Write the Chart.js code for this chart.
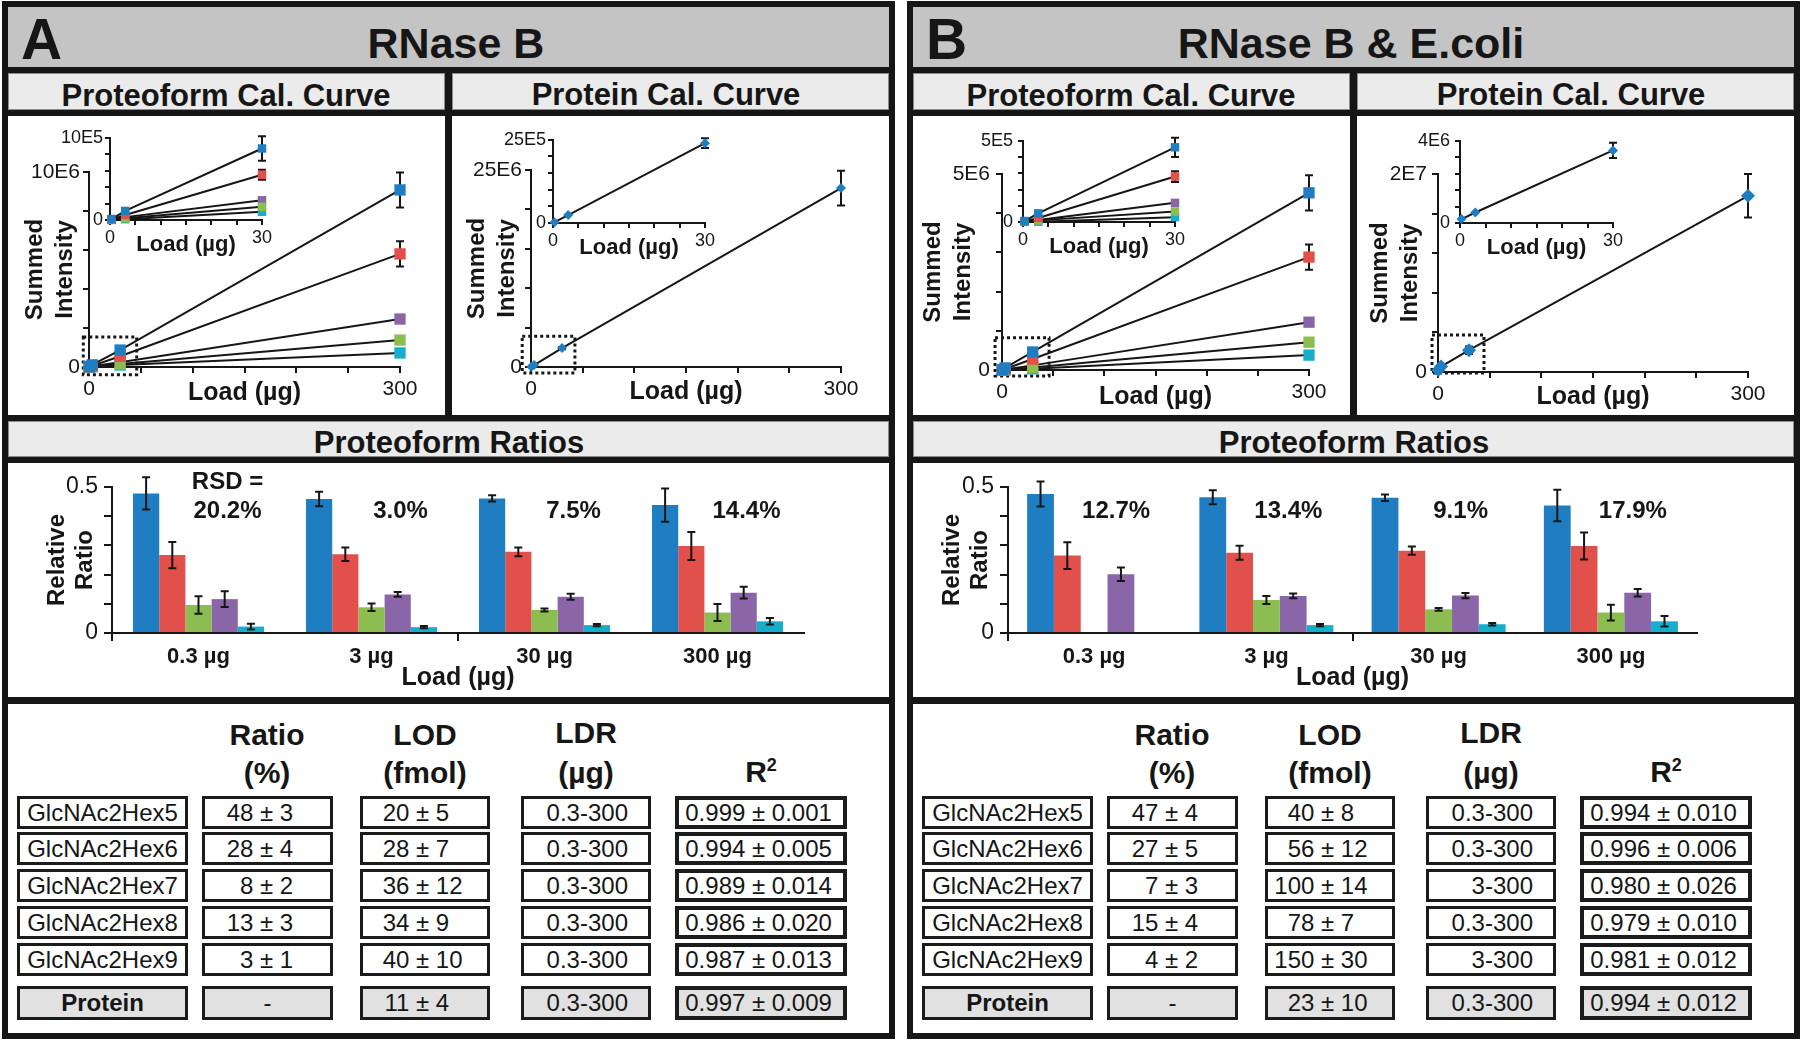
<!DOCTYPE html>
<html>
<head>
<meta charset="utf-8">
<title>RNase B calibration</title>
<script src="https://cdn.jsdelivr.net/npm/chart.js@4.4.1/dist/chart.umd.min.js"></script>
<style>
  html, body { margin: 0; padding: 0; background: #fff; }
  #page { position: relative; width: 1800px; height: 1040px; overflow: hidden; background: #fff;
          font-family: 'Liberation Sans', Arial, Helvetica, sans-serif; color: #161616; }
  #page div, #page canvas { position: absolute; }
  .row { box-sizing: border-box; border: 3px solid #1b1b1b; background: #fff; font-size: 24px; }
  .row.r2 { border-width: 4px; }
  .row.gray { background: #e1e1e1; }
  .row span { position: absolute; top: 0; white-space: nowrap; }
</style>
</head>
<body>
<div id="page"></div>
<script>
// ---------------- data ----------------
const loads = [0.3, 3, 30, 300];
const loadLabels = ['0.3 µg', '3 µg', '30 µg', '300 µg'];
const tableNames = ['GlcNAc2Hex5', 'GlcNAc2Hex6', 'GlcNAc2Hex7', 'GlcNAc2Hex8', 'GlcNAc2Hex9', 'Protein'];

// summed intensity, panel A (RNase B)
const hex5A = [0.012e6, 0.11e6, 0.87e6, 9.08e6];
const hex6A = [0.007e6, 0.06e6, 0.55e6, 5.8e6];
const hex7A = [0.002e6, 0.02e6, 0.16e6, 1.38e6];
const hex8A = [0.003e6, 0.035e6, 0.24e6, 2.46e6];
const hex9A = [0.001e6, 0.01e6, 0.10e6, 0.72e6];
const hex5AErr = [0, 0, 0.15e6, 0.9e6];
const hex6AErr = [0, 0, 0.06e6, 0.65e6];
const hex7AErr = [0, 0, 0.015e6, 0.08e6];
const hex8AErr = [0, 0, 0.02e6, 0.1e6];
const hex9AErr = [0, 0, 0.01e6, 0.05e6];
const proteinA = [0.025e6, 0.24e6, 2.4e6, 22.7e6];
const proteinAErr = [0, 0, 0.15e6, 2.2e6];

// summed intensity, panel B (RNase B & E.coli)
const hex5B = [0.006e6, 0.053e6, 0.46e6, 4.52e6];
const hex6B = [0.004e6, 0.025e6, 0.28e6, 2.88e6];
const hex7B = [null, 0.01e6, 0.065e6, 0.71e6];
const hex8B = [0.003e6, 0.012e6, 0.118e6, 1.22e6];
const hex9B = [null, 0.002e6, 0.03e6, 0.38e6];
const hex5BErr = [0, 0, 0.059e6, 0.45e6];
const hex6BErr = [0, 0, 0.033e6, 0.32e6];
const hex7BErr = [0, 0, 0.008e6, 0.05e6];
const hex8BErr = [0, 0, 0.01e6, 0.06e6];
const hex9BErr = [0, 0, 0.005e6, 0.03e6];
const proteinB = [0.19e6, 0.55e6, 2.2e6, 17.8e6];
const proteinBErr = [0, 0, 0.37e6, 2.2e6];
const proteinBInset = [0.19e6, 0.51e6, 3.53e6];

// y axis extents and their top tick labels: proteoform, proteoform inset, protein, protein inset
const yMaxA = [1e7, 1e6, 2.5e7, 2.5e6];
const yTopA = ['10E6', '10E5', '25E6', '25E5'];
const yMaxB = [5e6, 5e5, 2e7, 4e6];
const yTopB = ['5E6', '5E5', '2E7', '4E6'];

// relative ratio bars, one array per proteoform over the four loads
const ratio5A = [0.478, 0.459, 0.461, 0.438];
const ratio6A = [0.267, 0.270, 0.278, 0.298];
const ratio7A = [0.096, 0.088, 0.079, 0.070];
const ratio8A = [0.116, 0.132, 0.124, 0.138];
const ratio9A = [0.022, 0.020, 0.027, 0.040];
const ratio5AErr = [0.055, 0.025, 0.011, 0.057];
const ratio6AErr = [0.045, 0.023, 0.015, 0.048];
const ratio7AErr = [0.030, 0.013, 0.005, 0.029];
const ratio8AErr = [0.027, 0.008, 0.010, 0.020];
const ratio9AErr = [0.010, 0.004, 0.004, 0.011];
const ratio5B = [0.476, 0.465, 0.463, 0.437];
const ratio6B = [0.265, 0.275, 0.282, 0.298];
const ratio7B = [null, 0.113, 0.081, 0.070];
const ratio8B = [0.201, 0.127, 0.128, 0.138];
const ratio9B = [null, 0.027, 0.030, 0.040];
const ratio5BErr = [0.043, 0.024, 0.011, 0.054];
const ratio6BErr = [0.046, 0.024, 0.014, 0.046];
const ratio7BErr = [0, 0.014, 0.005, 0.027];
const ratio8BErr = [0.023, 0.008, 0.009, 0.013];
const ratio9BErr = [0, 0.004, 0.004, 0.018];
const barTicks = ['0', '0.5'];
const rsdA = ['20.2%', '3.0%', '7.5%', '14.4%'];
const rsdB = ['12.7%', '13.4%', '9.1%', '17.9%'];

// tables
const ratioA = ['48 ± 3', '28 ± 4', '8 ± 2', '13 ± 3', '3 ± 1', '-'];
const lodA = ['20 ± 5', '28 ± 7', '36 ± 12', '34 ± 9', '40 ± 10', '11 ± 4'];
const ldrA = ['0.3-300', '0.3-300', '0.3-300', '0.3-300', '0.3-300', '0.3-300'];
const r2A = ['0.999 ± 0.001', '0.994 ± 0.005', '0.989 ± 0.014', '0.986 ± 0.020', '0.987 ± 0.013', '0.997 ± 0.009'];
const ratioB = ['47 ± 4', '27 ± 5', '7 ± 3', '15 ± 4', '4 ± 2', '-'];
const lodB = ['40 ± 8', '56 ± 12', '100 ± 14', '78 ± 7', '150 ± 30', '23 ± 10'];
const ldrB = ['0.3-300', '0.3-300', '3-300', '0.3-300', '3-300', '0.3-300'];
const r2B = ['0.994 ± 0.010', '0.996 ± 0.006', '0.980 ± 0.026', '0.979 ± 0.010', '0.981 ± 0.012', '0.994 ± 0.012'];

// ---------------- layout helpers ----------------
const INK = '#161616';
const FONT = "'Liberation Sans', Arial, Helvetica, sans-serif";
const COLORS = ['#1f7ec2', '#e2504c', '#8cbd50', '#8a66a9', '#17aecb'];
const SUB = 'background:#ebebeb;box-shadow:inset 0 0 0 1px #8c8c8c';
const page = document.getElementById('page');

function box(l, t, w, h, css) {
  const d = document.createElement('div');
  d.style.cssText = `left:${l}px;top:${t}px;width:${w}px;height:${h}px;` + (css || '');
  page.appendChild(d);
  return d;
}

// place text so its baseline sits at `base`
function text(html, x, base, size, align, bold) {
  align = align || 'center';
  const w = 800;
  const left = align === 'center' ? x - w / 2 : x;
  const d = box(left, Math.round(base - 0.8465 * size), w, size,
    `font-size:${size}px;line-height:${size}px;white-space:nowrap;text-align:${align};` +
    `font-weight:${bold === false ? 'normal' : 'bold'}`);
  d.innerHTML = html;
  return d;
}

function span(parent, html, css) {
  const s = document.createElement('span');
  s.style.cssText = css;
  s.innerHTML = html;
  parent.appendChild(s);
}

function valueCell(l, t, w, h, val, mode, anchor, cls) {
  const d = box(l, t, w, h, '');
  d.className = 'row ' + cls;
  const bw = cls.indexOf('r2') >= 0 ? 4 : 3;
  const lh = h - 2 * bw;
  const inner = w - 2 * bw;
  if (mode === 'pm' && val.indexOf('±') >= 0) {
    const parts = val.split(' ± ');
    span(d, parts[0] + '&nbsp;', `right:${inner - (anchor - bw)}px;line-height:${lh}px`);
    span(d, '± ' + parts[1], `left:${anchor - bw}px;line-height:${lh}px`);
  } else if (mode === 'right') {
    span(d, val, `right:${w - bw - anchor}px;line-height:${lh}px`);
  } else {
    span(d, val, `left:0;right:0;text-align:center;line-height:${lh}px;` + (cls.indexOf('gray') >= 0 && mode === 'name' ? 'font-weight:bold' : ''));
  }
}

function buildPanel(dx, letter, title, titleCx, cols) {
  box(dx + 2, 1, 893, 1038, 'background:' + INK);
  box(dx + 8, 7, 881, 60, 'background:#c4c4c4');
  box(dx + 8, 73, 437, 37, SUB);
  box(dx + 452, 73, 437, 37, SUB);
  box(dx + 8, 116, 437, 299, 'background:#fff');
  box(dx + 452, 116, 437, 299, 'background:#fff');
  box(dx + 8, 421, 881, 36, SUB);
  box(dx + 8, 463, 881, 234, 'background:#fff');
  box(dx + 8, 704, 881, 329, 'background:#fff');

  text(letter, dx + 21, 59, 57, 'left');
  text(title, titleCx, 58, 43);
  text('Proteoform Cal. Curve', dx + 226, 106, 31);
  text('Protein Cal. Curve', dx + 666, 105, 31);
  text('Proteoform Ratios', dx + 449, 453, 31);

  text('Ratio', dx + 267, 745, 30);
  text('(%)', dx + 267, 783, 30);
  text('LOD', dx + 425, 745, 30);
  text('(fmol)', dx + 425, 783, 30);
  text('LDR', dx + 586, 743, 30);
  text('(µg)', dx + 586, 783, 30);
  text('R<span style="font-size:18px;position:relative;top:-11px">2</span>', dx + 761, 782, 30);

  const colX = [17, 202, 360, 521, 675];
  const colW = [171, 131, 130, 130, 172];
  const modes = ['name', 'pm', 'pm', 'right', 'pm'];
  const anchors = [0, 58, 56, 107, 77];
  const rowTop = [796, 832, 869, 906, 943, 986];
  tableNames.forEach((name, r) => {
    const h = r === 5 ? 34 : 33;
    const vals = [name].concat(cols.map(c => c[r]));
    vals.forEach((v, c) => {
      const cls = (c === 4 ? 'r2 ' : '') + (r === 5 ? 'gray' : '');
      const mode = (r === 5 && c === 1) ? 'center' : modes[c];
      valueCell(dx + colX[c], rowTop[r], colW[c], h, v, mode, anchors[c], cls);
    });
  });
}

buildPanel(0, 'A', 'RNase B', 456, [ratioA, lodA, ldrA, r2A]);
buildPanel(905, 'B', 'RNase B &amp; E.coli', 1351, [ratioB, lodB, ldrB, r2B]);

// ---------------- chart plugins ----------------
function drawErrors(chart) {
  const ctx = chart.ctx;
  const y = chart.scales.y;
  ctx.save();
  ctx.strokeStyle = INK;
  ctx.lineWidth = 2;
  chart.data.datasets.forEach((ds, i) => {
    if (!ds.errors) return;
    chart.getDatasetMeta(i).data.forEach((el, j) => {
      const raw = ds.data[j];
      const v = raw !== null && typeof raw === 'object' ? raw.y : raw;
      const e = ds.errors[j];
      if (v === null || v === undefined || !e) return;
      const x = el.x;
      const yt = y.getPixelForValue(v + e);
      const yb = y.getPixelForValue(v - e);
      ctx.beginPath();
      ctx.moveTo(x, yt); ctx.lineTo(x, yb);
      ctx.moveTo(x - 4, yt); ctx.lineTo(x + 4, yt);
      ctx.moveTo(x - 4, yb); ctx.lineTo(x + 4, yb);
      ctx.stroke();
    });
  });
  ctx.restore();
}

// bars: whiskers on top of the bars; curves: whiskers behind the markers
const barErrors = {id: 'barErrors', afterDatasetsDraw: drawErrors};
const pointErrors = {id: 'pointErrors', beforeDatasetsDraw: drawErrors};

const zoomBoxPlugin = {
  id: 'zoomBox',
  beforeDatasetsDraw(chart, args, o) {
    if (!o || o.x1 === undefined) return;
    const ctx = chart.ctx;
    const x = chart.scales.x, y = chart.scales.y;
    const l = x.getPixelForValue(o.x0), r = x.getPixelForValue(o.x1);
    const t = y.getPixelForValue(o.y1), b = y.getPixelForValue(o.y0);
    ctx.save();
    ctx.setLineDash([3, 3]);
    ctx.lineWidth = 3;
    ctx.strokeStyle = INK;
    ctx.strokeRect(l, t, r - l, b - t);
    ctx.restore();
  }
};

const rsdPlugin = {
  id: 'rsd',
  afterDatasetsDraw(chart, args, o) {
    if (!o || !o.labels) return;
    const ctx = chart.ctx;
    const x = chart.scales.x, y = chart.scales.y;
    ctx.save();
    ctx.font = `bold 24px ${FONT}`;
    ctx.fillStyle = INK;
    ctx.textAlign = 'center';
    ctx.textBaseline = 'middle';
    o.labels.forEach((t, i) => {
      const px = x.getPixelForValue(i) + o.dx;
      ctx.fillText(t, px, y.getPixelForValue(o.at));
      if (i === 0 && o.head) ctx.fillText(o.head, px, y.getPixelForValue(o.headAt));
    });
    ctx.restore();
  }
};

// ---------------- chart builders ----------------
function placeCanvas(plot, ml, mt, mr, mb) {
  const c = document.createElement('canvas');
  const w = plot.r - plot.l + ml + mr, h = plot.b - plot.t + mt + mb;
  c.width = w; c.height = h;
  c.style.cssText = `left:${plot.l - ml}px;top:${plot.t - mt}px;width:${w}px;height:${h}px`;
  page.appendChild(c);
  return c;
}

function lineSets(series, errs, n, radius, style) {
  return series.map((vals, k) => ({
    data: loads.slice(0, n).map((x, i) => ({x: x, y: vals[i]})),
    errors: errs[k].slice(0, n),
    borderColor: INK,
    borderWidth: 2,
    pointStyle: style,
    pointRadius: radius,
    pointBackgroundColor: COLORS[k],
    pointBorderWidth: 0,
    spanGaps: true,
    clip: false
  }));
}

function lineChart(c) {
  const tlh = 30;
  const ml = c.yTitleX ? c.plot.l - (c.yTitleX - tlh / 2 - 2) : c.ml;
  const xtlh = c.xtfs * 1.2;
  const xpad = c.plot.b + c.mb - xtlh / 2 - c.xTitleY;
  const canvas = placeCanvas(c.plot, ml, c.mt, c.mr, c.mb);
  return new Chart(canvas, {
    type: 'line',
    data: {datasets: c.datasets},
    options: {
      responsive: false,
      animation: false,
      layout: {padding: {left: 0, top: c.mt, right: c.mr, bottom: 0}},
      scales: {
        x: {
          type: 'linear', min: 0, max: c.xMax,
          afterFit: s => { s.height = c.mb; },
          border: {display: true, color: INK, width: 2},
          grid: {drawOnChartArea: false, drawTicks: true, tickLength: c.tick, color: INK, lineWidth: 2},
          ticks: {
            stepSize: c.xMax / 6, autoSkip: false, maxRotation: 0, minRotation: 0,
            padding: c.xpad, color: INK, font: {size: c.fs},
            callback: v => (v === 0 || v === c.xMax) ? String(v) : ''
          },
          title: {display: true, text: 'Load (µg)', color: INK,
                  font: {size: c.xtfs, weight: 'bold', lineHeight: 1.2}, padding: {top: 0, bottom: xpad}}
        },
        y: {
          min: 0, max: c.yMax,
          afterFit: s => { s.width = ml; },
          border: {display: true, color: INK, width: 2},
          grid: {drawOnChartArea: false, drawTicks: true, tickLength: c.tick, color: INK, lineWidth: 2},
          ticks: {
            stepSize: c.yMax / 5, autoSkip: false, padding: c.ypad, color: INK, font: {size: c.fs},
            callback: (v, i, t) => i === 0 ? '0' : (i === t.length - 1 ? c.yTop : '')
          },
          title: c.yTitleX ? {display: true, text: ['Summed', 'Intensity'], color: INK,
                  font: {size: 24, weight: 'bold', lineHeight: tlh / 24}, padding: {top: 2, bottom: 0}}
                : {display: false}
        }
      },
      plugins: {legend: {display: false}, tooltip: {enabled: false}, zoomBox: c.box || false}
    },
    plugins: [zoomBoxPlugin, pointErrors]
  });
}

function mainChart(plot, yTitleX, xTitleY, mt, mr, mb, yMax, yTop, datasets, zoom, ypad) {
  return lineChart({plot, yTitleX, xTitleY, mt, mr, mb, yMax, yTop, datasets, box: zoom,
    xMax: 300, tick: 6, fs: 21, xpad: 4, ypad: ypad, xtfs: 25});
}

function insetChart(plot, yMax, yTop, datasets, ypad) {
  return lineChart({plot, ml: 62, mt: 12, mr: 25, mb: 38, xTitleY: plot.b + 25, yMax, yTop, datasets,
    xMax: 30, tick: 5, fs: 18, xpad: 2, ypad: ypad, xtfs: 22});
}

function barChart(plot, yTitleX, series, errs, rsd, head, dx, catPct) {
  const tlh = 28;
  const ml = plot.l - (yTitleX - tlh / 2 - 2);
  const mt = 22, mr = 60, mb = 60;
  const canvas = placeCanvas(plot, ml, mt, mr, mb);
  return new Chart(canvas, {
    type: 'bar',
    data: {
      labels: loadLabels,
      datasets: series.map((vals, k) => ({
        data: vals, errors: errs[k], backgroundColor: COLORS[k], borderWidth: 0,
        categoryPercentage: catPct, barPercentage: 1
      }))
    },
    options: {
      responsive: false,
      animation: false,
      layout: {padding: {left: 0, top: mt, right: mr, bottom: 0}},
      scales: {
        x: {
          afterFit: s => { s.height = mb; },
          border: {display: true, color: INK, width: 2},
          grid: {offset: true, drawOnChartArea: false, drawTicks: true, tickLength: 8, lineWidth: 2,
                 color: ctx => ctx.index % 2 === 0 ? INK : 'rgba(0,0,0,0)'},
          ticks: {padding: 3, color: INK, font: {size: 22, weight: 'bold'}, maxRotation: 0, autoSkip: false},
          title: {display: true, text: 'Load (µg)', color: INK,
                  font: {size: 25, weight: 'bold', lineHeight: 1.2}, padding: {top: 0, bottom: 0}}
        },
        y: {
          min: 0, max: 0.5,
          afterFit: s => { s.width = ml; },
          border: {display: true, color: INK, width: 2},
          grid: {drawOnChartArea: false, drawTicks: true, tickLength: 8, color: INK, lineWidth: 2},
          ticks: {stepSize: 0.1, autoSkip: false, padding: 6, color: INK, font: {size: 23},
                  callback: (v, i, t) => i === 0 ? barTicks[0] : (i === t.length - 1 ? barTicks[1] : '')},
          title: {display: true, text: ['Relative', 'Ratio'], color: INK,
                  font: {size: 24, weight: 'bold', lineHeight: tlh / 24}, padding: {top: 2, bottom: 0}}
        }
      },
      plugins: {legend: {display: false}, tooltip: {enabled: false},
                rsd: {labels: rsd, head: head, dx: dx, at: 0.418, headAt: 0.515}}
    },
    plugins: [barErrors, rsdPlugin]
  });
}

// ---------------- panel A ----------------
const protoA = [hex5A, hex6A, hex7A, hex8A, hex9A];
const protoAErr = [hex5AErr, hex6AErr, hex7AErr, hex8AErr, hex9AErr];
mainChart({l: 89, t: 172, r: 400, b: 367}, 35, 393, 50, 40, 45, yMaxA[0], yTopA[0],
  lineSets(protoA, protoAErr, 4, 8, 'rect'), {x0: -5.5, x1: 46, y0: -0.4e6, y1: 1.54e6}, 3);
insetChart({l: 110, t: 137, r: 262, b: 220}, yMaxA[1], yTopA[1],
  lineSets(protoA, protoAErr, 3, 6, 'rect'), 2);
mainChart({l: 531, t: 170, r: 841, b: 367}, 477, 392, 48, 40, 45, yMaxA[2], yTopA[2],
  lineSets([proteinA], [proteinAErr], 4, 5, 'rectRot'), {x0: -8.5, x1: 42.5, y0: -0.76e6, y1: 3.9e6}, 3);
insetChart({l: 553, t: 139, r: 705, b: 223}, yMaxA[3], yTopA[3],
  lineSets([proteinA], [proteinAErr], 3, 5, 'rectRot'), 2);
barChart({l: 112, t: 487, r: 804, b: 633}, 57,
  [ratio5A, ratio6A, ratio7A, ratio8A, ratio9A],
  [ratio5AErr, ratio6AErr, ratio7AErr, ratio8AErr, ratio9AErr], rsdA, 'RSD =', 29, 0.757);

// ---------------- panel B ----------------
const protoB = [hex5B, hex6B, hex7B, hex8B, hex9B];
const protoBErr = [hex5BErr, hex6BErr, hex7BErr, hex8BErr, hex9BErr];
mainChart({l: 1002, t: 174, r: 1309, b: 370}, 933, 397, 52, 40, 45, yMaxB[0], yTopB[0],
  lineSets(protoB, protoBErr, 4, 8, 'rect'), {x0: -6.8, x1: 46, y0: -0.15e6, y1: 0.82e6}, 6);
insetChart({l: 1023, t: 137, r: 1175, b: 222}, yMaxB[1], yTopB[1],
  lineSets(protoB, protoBErr, 3, 6, 'rect'), 5);
mainChart({l: 1438, t: 174, r: 1748, b: 372}, 1380, 397, 52, 38, 43, yMaxB[2], yTopB[2],
  lineSets([proteinB], [proteinBErr], 4, 7, 'rectRot'), {x0: -5.8, x1: 44.5, y0: -0.1e6, y1: 3.74e6}, 5);
insetChart({l: 1460, t: 137, r: 1613, b: 223}, yMaxB[3], yTopB[3],
  lineSets([proteinBInset], [proteinBErr], 3, 5, 'rectRot'), 5);
barChart({l: 1008, t: 487, r: 1697, b: 633}, 952,
  [ratio5B, ratio6B, ratio7B, ratio8B, ratio9B],
  [ratio5BErr, ratio6BErr, ratio7BErr, ratio8BErr, ratio9BErr], rsdB, null, 22, 0.778);
</script>
</body>
</html>
